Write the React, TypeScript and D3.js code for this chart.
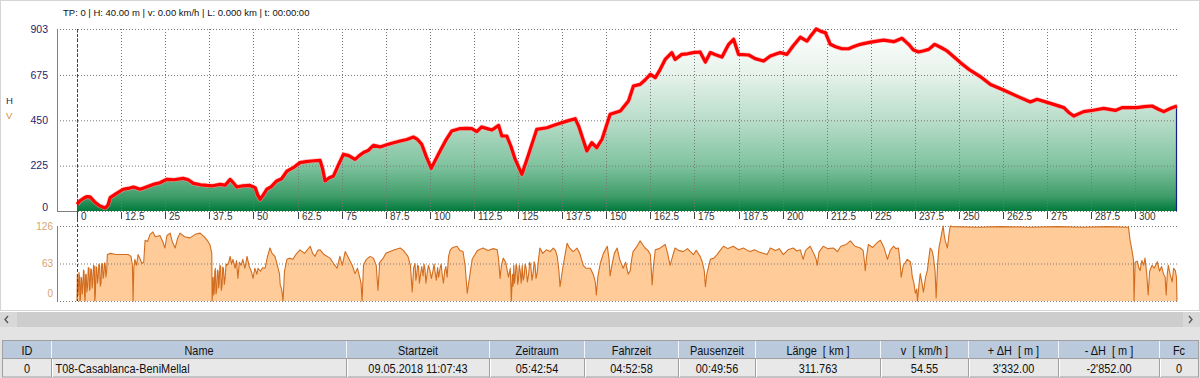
import React from 'react';
import * as d3 from 'd3';

// ---------- DATA ----------
const totalKm = 311.763;
const maxH = 903;
const maxV = 126;

// elevation profile [km, m]
const elevation: [number, number][] = [
  [0,33],[0.8,50],[1.8,62],[2.7,71],[3.7,70],[5.0,45],[6.5,25],[8.0,15],[8.8,30],[9.4,66],[11,85],[13.1,108],[14.5,112],[16,119],[17.9,108],[19.5,118],[21.6,132],[23.5,140],[25.4,157],[27.5,155],[30.1,162],[31.5,155],[33,137],[35,130],[36.8,127],[38.5,125],[40.5,132],[42,128],[43.4,157],[44.3,140],[45.3,119],[47,125],[49,127],[50.5,116],[51.2,80],[51.9,58],[52.8,80],[53.8,108],[55,120],[56.6,149],[58,160],[59.5,198],[61.3,215],[63.2,240],[65,245],[66.5,248],[68.9,251],[69.6,210],[70.3,149],[71.5,165],[72.7,174],[74,225],[75.5,281],[77,275],[78.8,256],[80,275],[81.2,290],[82.5,300],[84,326],[85.9,318],[88,330],[90,340],[91.6,347],[93.5,355],[95.4,367],[96.5,355],[97.7,331],[99,270],[100.4,212],[101.5,250],[102.9,298],[104.5,350],[106.2,397],[108.6,409],[110.5,410],[111.9,409],[113.3,394],[114.7,417],[116,410],[117.6,402],[119.5,425],[120.4,372],[121.8,372],[123,320],[124.2,256],[126.1,182],[128,281],[130.3,405],[133.2,413],[136,430],[138.8,446],[141.2,458],[142.2,420],[143.1,372],[144.5,298],[145.9,339],[147.3,314],[148.8,356],[150,420],[151.1,480],[154,496],[156.3,546],[157.7,620],[159.6,628],[161,650],[162.5,678],[163.9,662],[165.3,703],[166.7,752],[168.6,786],[169.5,752],[171.4,777],[173,780],[174.7,786],[176.6,789],[178.1,739],[179.5,786],[181,775],[182.8,764],[184.7,827],[186.1,852],[187.5,777],[190.4,774],[192.2,756],[194.6,744],[196.5,769],[199.3,786],[201.2,777],[203,820],[205,862],[206.9,843],[208,870],[209.5,903],[211,890],[212.1,885],[213.5,827],[215,815],[216.8,805],[218.7,805],[220,815],[222,827],[225,838],[228.6,848],[231.5,840],[233.8,857],[235.7,827],[237,800],[238.5,789],[240,795],[241.4,802],[243.1,827],[245,810],[246.6,794],[248.5,765],[250.4,736],[253,700],[256,667],[258.9,628],[262.6,600],[266.4,570],[270.2,541],[272.1,554],[275.9,534],[279.7,513],[281,490],[282.5,471],[285.3,493],[288,500],[291,509],[294.3,499],[296.2,513],[300.4,513],[302.5,518],[304.7,521],[306.5,505],[308,493],[310,510],[311.763,521]
];

// speed profile [km, km/h]
const speed: [number, number][] = [
  [0,0],[0.1,45],[0.3,10],[0.4,20],[0.55,48],[0.7,42],[0.85,0],[1.0,5],[1.15,40],[1.3,38],[1.5,12],[1.7,30],[1.85,52],[2.0,50],[2.15,8],[2.3,0],[2.45,44],[2.6,45],[2.8,15],[3.0,25],[3.2,56],[3.4,55],[3.55,18],[3.7,20],[3.9,54],[4.1,52],[4.3,22],[4.5,35],[4.7,60],[4.9,58],[5.05,0],[5.2,10],[5.4,58],[5.6,55],[5.8,30],[6.0,40],[6.2,62],[6.4,60],[6.6,25],[6.8,30],[7.0,63],[7.2,62],[7.4,38],[7.6,45],[7.8,64],[8.0,60],[8.2,40],[8.4,50],
  [8.6,78],[9.5,80],[11,78],[13,78],[14.5,78],[15.3,75],[15.7,60],[15.9,0],[16.1,55],[16.4,70],[16.9,60],[17.3,78],[17.8,72],[18.4,63],[18.9,65],[19.3,102],[20.0,100],[20.7,112],[21.5,116],[22.2,108],[23.5,110],[24.3,100],[24.9,89],[25.5,110],[26.4,114],[27.0,100],[27.8,89],[28.5,105],[29.2,114],[30.5,108],[32.0,106],[33.5,112],[34.9,114],[36.0,108],[36.9,102],[37.7,94],[38.2,80],[38.3,0],
  [38.6,40],[38.75,10],[38.9,15],[39.05,50],[39.2,55],[39.4,12],[39.6,20],[39.8,52],[40.0,50],[40.15,22],[40.3,30],[40.5,60],[40.7,58],[40.9,18],[41.1,25],[41.3,57],[41.5,55],[41.75,28],[42.0,40],[42.25,62],[42.5,60],[43.0,65],[43.4,75],[43.8,62],[44.2,70],[44.8,55],[45.2,68],[45.6,38],[46.0,65],[46.5,60],[47.0,70],[47.6,55],[48.2,75],[48.8,58],[49.4,50],[49.9,38],[50.4,55],[51.0,45],[51.3,55],[52.0,50],[52.6,56],[53.3,55],[54.0,75],[54.7,89],[55.3,80],[56.1,75],[56.8,60],[57.4,45],[57.6,27],[58.0,20],[58.4,0],[58.8,50],[59.5,70],[60.2,72],[61.2,70],[62.0,78],[63.2,86],[64.5,80],[66.1,92],[66.8,80],[67.5,75],[68.2,85],[68.9,86],[70.0,78],[71.7,72],[72.5,65],[73.7,55],[74.5,75],[75.2,60],[76.0,83],[77.0,72],[78.0,60],[78.8,46],[79.5,55],[80.2,38],[80.5,30],[80.8,0],[81.2,60],[82.0,70],[83.1,75],[84.0,72],[84.8,60],[85.3,18],[85.8,65],[86.8,72],[87.5,80],[88.7,83],[90.0,86],[91.6,89],[92.5,85],[93.8,75],[94.5,60],[95.0,15],[95.4,55],[95.8,63],[96.05,35],[96.3,45],[96.55,60],[96.8,58],[97.05,30],[97.3,42],[97.7,58],[98.1,42],[98.35,62],[98.6,55],[98.9,30],[99.2,45],[99.6,60],[100.0,52],[100.45,38],[100.9,51],[101.2,62],[101.5,48],[101.85,35],[102.2,56],[102.5,40],[102.9,55],[103.2,62],[103.5,45],[103.85,30],[104.2,50],[104.55,58],[104.9,40],[105.3,75],[105.8,86],[106.5,90],[107.7,92],[108.5,85],[109.4,83],[110.0,60],[110.6,13],[111.0,30],[111.4,46],[112.0,70],[112.8,78],[113.5,85],[115.1,89],[116.5,85],[118.0,88],[119.1,86],[119.5,70],[119.9,38],[120.3,60],[120.8,72],[121.5,65],[122.3,40],[122.8,55],[123.1,0],[123.4,45],[123.6,25],[123.8,60],[124.0,30],[124.2,40],[124.45,62],[124.7,55],[124.9,28],[125.1,35],[125.35,60],[125.6,51],[125.9,30],[126.2,60],[126.45,35],[126.7,40],[127.0,62],[127.3,55],[127.65,32],[128.0,45],[128.3,65],[128.6,60],[128.95,35],[129.3,48],[129.55,66],[129.8,62],[130.1,38],[130.4,46],[130.8,70],[131.2,89],[132.0,80],[133.0,86],[134.1,83],[135.0,89],[135.6,85],[136.1,75],[136.6,50],[136.9,24],[137.3,40],[137.8,60],[138.4,80],[138.9,97],[139.5,90],[140.6,83],[141.2,86],[141.7,89],[142.5,80],[143.5,60],[144.3,55],[145.5,55],[146.3,45],[146.9,32],[147.2,10],[147.6,40],[148.3,63],[149.2,80],[150.3,92],[150.8,70],[151.1,42],[151.6,60],[152.3,80],[153.1,89],[153.8,70],[154.8,55],[155.5,65],[156.2,45],[156.8,51],[157.2,70],[157.6,83],[158.5,90],[159.6,101],[160.3,95],[161.0,89],[161.8,85],[162.5,78],[162.8,50],[163.0,27],[163.4,60],[163.9,86],[165.0,88],[166.7,95],[167.4,80],[168.1,60],[168.8,75],[169.5,89],[170.5,85],[171.8,83],[173.0,88],[174.7,78],[175.5,85],[176.6,75],[177.2,66],[177.8,50],[178.1,24],[178.5,45],[179.5,70],[180.5,72],[181.4,78],[182.3,85],[183.2,92],[184.5,88],[186.0,92],[187.5,86],[188.9,89],[190.0,85],[190.8,83],[192.0,86],[193.5,82],[195.6,78],[196.5,89],[198.0,85],[199.0,88],[200.2,78],[201.5,86],[203.0,89],[204.0,84],[205.0,86],[205.4,78],[205.8,70],[206.5,85],[207.8,92],[208.8,80],[209.5,70],[209.8,60],[210.3,82],[211.5,92],[212.8,88],[214.3,89],[215.0,86],[215.5,83],[216.5,92],[218.0,95],[219.2,101],[220.5,92],[222.0,89],[222.8,85],[223.2,65],[223.4,51],[223.8,75],[224.3,95],[225.5,90],[226.8,98],[227.7,102],[228.7,90],[229.7,70],[230.5,85],[231.4,92],[232.1,88],[232.8,89],[233.1,75],[233.3,63],[233.6,40],[234.2,60],[234.8,65],[235.3,70],[236.2,66],[236.5,55],[236.7,42],[237.2,30],[237.6,13],[238.0,20],[238.2,0],[238.6,25],[239.0,46],[239.5,30],[239.9,15],[240.5,40],[241.0,51],[241.4,70],[241.8,89],[242.3,85],[242.7,75],[243.2,50],[243.5,5],[243.9,60],[244.3,90],[244.7,101],[245.1,115],[245.5,126],[245.8,110],[246.1,101],[246.4,95],[246.7,89],[247.1,110],[247.5,126],[248.1,125],
  [255,124],[262,125],[270,124],[278,125],[285,124],[292,125],[298,124],[298.5,101],[299.0,85],[299.4,70],[299.6,0],[299.9,65],[300.5,67],[301.0,55],[301.3,51],[301.8,68],[302.3,60],[302.7,72],[303.2,45],[303.6,10],[304.0,50],[304.7,60],[305.3,55],[306.2,66],[306.8,50],[307.4,58],[307.9,46],[308.4,40],[308.7,10],[309.0,45],[309.3,60],[309.8,45],[310.4,32],[310.8,55],[311.3,51],[311.6,40],[311.763,0]
];

const xTickValues = [0, 12.5, 25, 37.5, 50, 62.5, 75, 87.5, 100, 112.5, 125, 137.5, 150, 162.5, 175, 187.5, 200, 212.5, 225, 237.5, 250, 262.5, 275, 287.5, 300];
const xTickLabels = ['0', '12.5', '25', '37.5', '50', '62.5', '75', '87.5', '100', '112.5', '125', '137.5', '150', '162.5', '175', '187.5', '200', '212.5', '225', '237.5', '250', '262.5', '275', '287.5', '300'];
const hTicks = [0, 225, 450, 675, 903];
const vTicks = [0, 63, 126];
const infoText = 'TP: 0 | H: 40.00 m | v: 0.00 km/h | L: 0.000 km | t: 00:00:00';

const tableHeaders = ['ID', 'Name', 'Startzeit', 'Zeitraum', 'Fahrzeit', 'Pausenzeit', 'Länge  [ km ]', 'v  [ km/h ]', '+ ΔH  [ m ]', '- ΔH  [ m ]', 'Fc'];
const tableRow = ['0', 'T08-Casablanca-BeniMellal', '09.05.2018 11:07:43', '05:42:54', '04:52:58', '00:49:56', '311.763', '54.55', "3'332.00", "-2'852.00", '0'];

// ---------- LAYOUT ----------
const W = 1200, H = 378;
const colEdges = [2.5, 51.5, 346.5, 489.5, 584.5, 678.5, 755.5, 880.5, 968.5, 1058.5, 1159.5, 1198.5];
const plotL = 57, plotR = 1177;
const narrowScale = 0.84;

export default function App() {
  const x = d3.scaleLinear().domain([0, totalKm]).range([77, plotR]);
  const yH = d3.scaleLinear().domain([0, maxH]).range([211, 29]);
  const yV = d3.scaleLinear().domain([0, maxV]).range([301, 226]);

  const hArea = d3.area<[number, number]>().x(d => x(d[0])).y0(yH(0)).y1(d => yH(d[1]))(elevation) || '';
  const hLine = d3.line<[number, number]>().x(d => x(d[0])).y(d => yH(d[1]))(elevation) || '';
  const vArea = d3.area<[number, number]>().x(d => x(d[0])).y0(yV(0)).y1(d => yV(d[1]))(speed) || '';
  const vLine = d3.line<[number, number]>().x(d => x(d[0])).y(d => yV(d[1]))(speed) || '';

  const sans = 'Liberation Sans, Arial, sans-serif';
  const last = elevation[elevation.length - 1];

  const cellText = (key: string, tx: number, ty: number, anchor: 'start' | 'middle', s: string) => (
    <g key={key} transform={`translate(${tx},${ty}) scale(${narrowScale},1)`}>
      <text x={0} y={0} textAnchor={anchor} fontFamily={sans} fontSize={13} fill="#111" style={{ whiteSpace: 'pre' }}>{s}</text>
    </g>
  );

  return (
    <svg width={W} height={H} style={{ position: 'fixed', left: 0, top: 0, display: 'block' }} xmlns="http://www.w3.org/2000/svg">
      <defs>
        <linearGradient id="gH" gradientUnits="userSpaceOnUse" x1="0" y1={yH(maxH)} x2="0" y2={yH(0)}>
          <stop offset="0" stopColor="#ffffff" />
          <stop offset="0.25" stopColor="#e6f2eb" />
          <stop offset="0.5" stopColor="#b9ddc9" />
          <stop offset="0.75" stopColor="#80c39f" />
          <stop offset="0.92" stopColor="#3e9c69" />
          <stop offset="1" stopColor="#007a3c" />
        </linearGradient>
      </defs>
      <rect x={0} y={0} width={W} height={H} fill="#ffffff" />
      <rect x={0.5} y={0.5} width={W - 1} height={310} fill="#ffffff" stroke="#d4d4d4" />

      <text x={63} y={16} fontFamily={sans} fontSize={9.5} fill="#111">{infoText}</text>

      {/* elevation area */}
      <path d={hArea} fill="url(#gH)" />
      {hTicks.map(t => (
        <line key={'hg' + t} x1={plotL} x2={plotR} y1={yH(t) + 0.5} y2={yH(t) + 0.5} stroke="#777" strokeDasharray="1,2" />
      ))}
      {xTickValues.map(t => (
        <line key={'vg' + t} x1={Math.round(x(t)) + 0.5} x2={Math.round(x(t)) + 0.5} y1={yH(maxH)} y2={yH(0)} stroke="#777" strokeDasharray="1,2" />
      ))}
      <line x1={plotL + 0.5} x2={plotL + 0.5} y1={yH(maxH)} y2={yH(0) + 1} stroke="#808080" />
      <line x1={plotL} x2={x(0)} y1={yH(0) + 0.5} y2={yH(0) + 0.5} stroke="#808080" />
      <line x1={x(last[0]) - 0.5} x2={x(last[0]) - 0.5} y1={yH(last[1])} y2={yH(0)} stroke="#10208a" strokeWidth={1.2} />
      <path d={hLine} fill="none" stroke="#ff9a9a" strokeWidth={4.6} strokeLinejoin="round" opacity={0.6} />
      <path d={hLine} fill="none" stroke="#ff0000" strokeWidth={3.2} strokeLinejoin="round" />

      {hTicks.map(t => (
        <text key={'hl' + t} x={48} y={t === 0 ? yH(t) - 4 : yH(t)} dy="0.35em" textAnchor="end" fontFamily={sans} fontSize={10.5} fill="#1c1f6e">{t}</text>
      ))}
      <text x={6} y={104} fontFamily={sans} fontSize={9.5} fill="#1c1f6e">H</text>
      <text x={6} y={119} fontFamily={sans} fontSize={9.5} fill="#d88a40">V</text>

      {xTickValues.map((t, i) => (
        <g key={'xt' + t}>
          <line x1={Math.round(x(t)) + 0.5} x2={Math.round(x(t)) + 0.5} y1={212} y2={219} stroke="#444" />
          <text x={Math.round(x(t)) + 4} y={220} fontFamily={sans} fontSize={10} fill="#333">{xTickLabels[i]}</text>
        </g>
      ))}

      {/* speed */}
      <path d={vArea} fill="#ffcc99" />
      {vTicks.map(t => (
        <line key={'vgl' + t} x1={plotL} x2={plotR} y1={yV(t) + 0.5} y2={yV(t) + 0.5} stroke="#777" strokeDasharray="1,2" />
      ))}
      <path d={vLine} fill="none" stroke="#d26d1f" strokeWidth={1.1} strokeLinejoin="round" />
      <line x1={plotL + 0.5} x2={plotL + 0.5} y1={yV(maxV)} y2={yV(0) + 1} stroke="#808080" />
      {vTicks.map(t => (
        <text key={'vl' + t} x={53} y={t === 0 ? yV(t) - 8 : yV(t)} dy="0.35em" textAnchor="end" fontFamily={sans} fontSize={10} fill="#d9a36e">{t}</text>
      ))}

      <line x1={x(0) + 0.5} x2={x(0) + 0.5} y1={yH(maxH)} y2={yV(0)} stroke="#a01818" strokeDasharray="3,2" />

      {/* scrollbar */}
      <rect x={0} y={312} width={W} height={15} fill="#cdcdcd" />
      <rect x={0} y={312} width={17} height={15} fill="#d8d8d8" />
      <rect x={1183} y={312} width={17} height={15} fill="#d8d8d8" />
      <polyline points="8,316 5,319.5 8,323" fill="none" stroke="#555" strokeWidth={1.3} />
      <polyline points="1189,316 1192,319.5 1189,323" fill="none" stroke="#555" strokeWidth={1.3} />

      {/* table */}
      <rect x={0} y={327} width={W} height={51} fill="#e3e3e3" />
      <rect x={colEdges[0]} y={340.5} width={colEdges[colEdges.length - 1] - colEdges[0]} height={18} fill="#bac9dc" />
      <rect x={colEdges[0]} y={358.5} width={colEdges[colEdges.length - 1] - colEdges[0]} height={18.5} fill="#e8e8e8" />
      <rect x={colEdges[0]} y={340.5} width={colEdges[colEdges.length - 1] - colEdges[0]} height={36.5} fill="none" stroke="#a0a0a0" />
      <line x1={colEdges[0]} x2={colEdges[colEdges.length - 1]} y1={358.5} y2={358.5} stroke="#a0a0a0" />
      {colEdges.slice(1, -1).map((e, i) => (
        <g key={'ce' + i}>
          <line x1={e} x2={e} y1={341} y2={358} stroke="#f2f5f9" />
          <line x1={e} x2={e} y1={359} y2={377} stroke="#a0a0a0" />
          <line x1={e + 1} x2={e + 1} y1={359} y2={377} stroke="#ffffff" />
        </g>
      ))}
      {tableHeaders.map((h, i) => cellText('th' + i, (colEdges[i] + colEdges[i + 1]) / 2, 354.5, 'middle', h))}
      {tableRow.map((v, i) => cellText('td' + i, i === 1 ? colEdges[i] + 4 : (colEdges[i] + colEdges[i + 1]) / 2, 372.5, i === 1 ? 'start' : 'middle', v))}
    </svg>
  );
}
